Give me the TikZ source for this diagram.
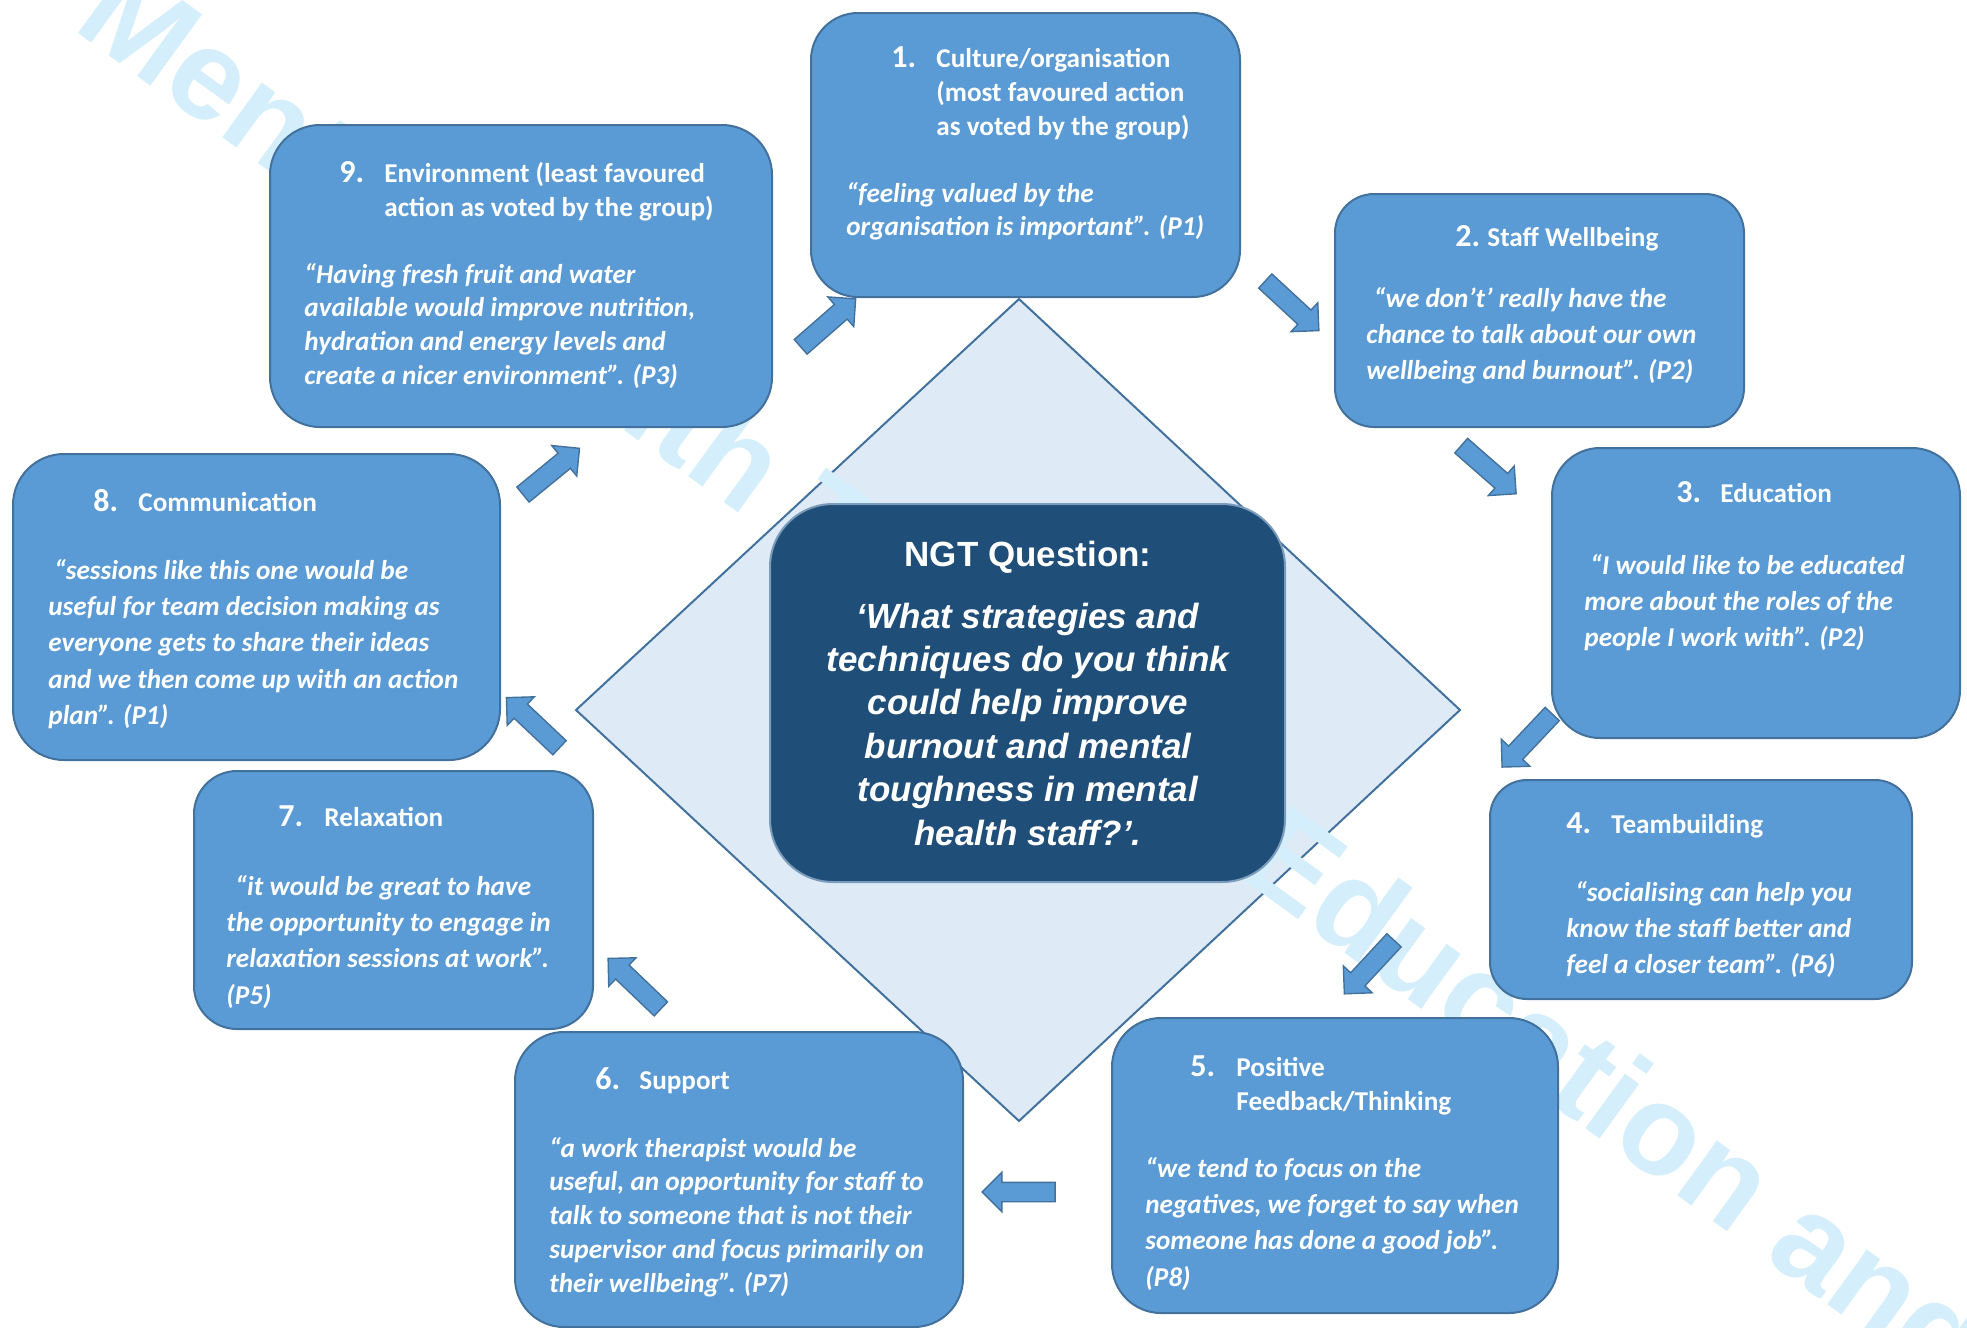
\documentclass[tikz,border=0pt]{standalone}
\usepackage{fontspec}
\setmainfont{Carlito}
\newfontfamily\arialfont{Liberation Sans}
\usetikzlibrary{shapes.arrows,fit}
\definecolor{boxfill}{HTML}{5B9BD5}
\definecolor{boxline}{HTML}{41719C}
\definecolor{centerfill}{HTML}{1F4E79}
\definecolor{diafill}{HTML}{DEEBF7}
\definecolor{wmark}{RGB}{212,239,251}
\newcommand\mylines[1]{\begin{tabular}[t]{@{}l@{}}#1\end{tabular}}
\newcommand\mylinesc[1]{\begin{tabular}[t]{@{}c@{}}#1\end{tabular}}
\begin{document}
\begin{tikzpicture}[x=0.5pt,y=-0.5pt,
  box/.style={draw=boxline, fill=boxfill, line width=1pt, inner sep=0pt, outer sep=0pt},
  cbox/.style={draw=boxline!70!white, fill=centerfill, line width=1pt, inner sep=0pt, outer sep=0pt},
  barrow/.style={single arrow, draw=boxline, fill=boxfill, line width=0.7pt, minimum height=36.5pt,
    text height=4.5pt, text depth=4.5pt, text width=0pt,
    minimum width=19pt, single arrow head extend=5pt, inner sep=0pt, sloped, allow upside down},
  num/.style={anchor=base west, inner sep=0pt, text=white, font=\fontsize{16}{19}\selectfont\bfseries},
  headA/.style={anchor=base west, inner sep=0pt, text=white, font=\fontsize{13.6}{17}\selectfont\bfseries},
  quoteA/.style={anchor=base west, inner sep=0pt, text=white, font=\fontsize{13.6}{16.9}\selectfont\bfseries\itshape},
  quoteB/.style={anchor=base west, inner sep=0pt, text=white, font=\fontsize{13.6}{18.2}\selectfont\bfseries\itshape},
  wm/.style={anchor=base west, rotate=-36, inner sep=0pt, text=wmark, font=\arialfont\bfseries\fontsize{64}{70}\selectfont},
  ctitle/.style={anchor=base, inner sep=0pt, text=white, font=\arialfont\bfseries\fontsize{17.5}{21.7}\selectfont},
  cquest/.style={anchor=base, inner sep=0pt, text=white, font=\arialfont\bfseries\itshape\fontsize{17.5}{21.7}\selectfont}
]
\useasboundingbox (0,0) rectangle (1967,1328);
\fill[white] (0,0) rectangle (1967,1328);

% diamond
\coordinate (dT) at (1019,299);
\coordinate (dR) at (1460,710);
\coordinate (dB) at (1019,1121);
\coordinate (dL) at (576,710);
\draw[fill=diafill, draw=boxline, line width=1pt] (dT) -- (dR) -- (dB) -- (dL) -- cycle;

% watermark
\begin{scope}
\clip (0,0) rectangle (1967,1328);
\node[wm] (wmtext) at (71,28) {Mental Health Training, Education and Practice};
\end{scope}

% center box
\node[cbox, rounded corners=31.5pt, fit={(770,504) (1285,882)}] (cb) {};
\node[ctitle] (ct) at (1028,566) {NGT Question:};
\node[cquest] (cq) at (1028,628) {\mylinesc{‘What strategies and\\techniques do you think\\could help improve\\burnout and mental\\toughness in mental\\health staff?’.}};

% boxes
\node[box, rounded corners=23.5pt, fit={(811,13) (1240,297)}] (b1) {};
\node[box, rounded corners=19.5pt, fit={(1335,194) (1744,427)}] (b2) {};
\node[box, rounded corners=24pt, fit={(1552,448) (1960,738)}] (b3) {};
\node[box, rounded corners=18.5pt, fit={(1490,780) (1912,999)}] (b4) {};
\node[box, rounded corners=24.5pt, fit={(1112,1018) (1558,1313)}] (b5) {};
\node[box, rounded corners=24.5pt, fit={(515,1032) (963,1327)}] (b6) {};
\node[box, rounded corners=21.5pt, fit={(194,771) (593,1029)}] (b7) {};
\node[box, rounded corners=25.5pt, fit={(13,454) (500,760)}] (b8) {};
\node[box, rounded corners=25pt, fit={(270,125) (772,427)}] (b9) {};

% box 1
\node[num] (n1) at (891,67) {1.};
\node[headA] (h1) at (936,67) {\mylines{Culture/organisation\\(most favoured action\\as voted by the group)}};
\node[quoteA] (q1) at (846,202) {\mylines{“feeling valued by the\\organisation is important”. (P1)}};
% box 2
\node[num] (n2) at (1455,246) {2.};
\node[headA] (h2) at (1487,246) {Staff Wellbeing};
\node[quoteB] (q2) at (1366,307) {\mylines{\hspace{3.75pt}“we don’t’ really have the\\chance to talk about our own\\wellbeing and burnout”. (P2)}};
% box 3
\node[num] (n3) at (1676,502) {3.};
\node[headA] (h3) at (1720,502) {Education};
\node[quoteB] (q3) at (1584,574) {\mylines{\hspace{3pt}“I would like to be educated\\more about the roles of the\\people I work with”. (P2)}};
% box 4
\node[num] (n4) at (1566,833) {4.};
\node[headA] (h4) at (1611,833) {Teambuilding};
\node[quoteB] (q4) at (1566,901) {\mylines{\hspace{4.5pt}“socialising can help you\\know the staff better and\\feel a closer team”. (P6)}};
% box 5
\node[num] (n5) at (1190,1076) {5.};
\node[headA] (h5) at (1236,1076) {\mylines{Positive\\Feedback/Thinking}};
\node[quoteB] (q5) at (1145,1177) {\mylines{“we tend to focus on the\\negatives, we forget to say when\\someone has done a good job”.\\(P8)}};
% box 6
\node[num] (n6) at (595,1089) {6.};
\node[headA] (h6) at (639,1089) {Support};
\node[quoteA] (q6) at (549,1157) {\mylines{“a work therapist would be\\useful, an opportunity for staff to\\talk to someone that is not their\\supervisor and focus primarily on\\their wellbeing”. (P7)}};
% box 7
\node[num] (n7) at (278,826) {7.};
\node[headA] (h7) at (324,826) {Relaxation};
\node[quoteB] (q7) at (226,895) {\mylines{\hspace{4.5pt}“it would be great to have\\the opportunity to engage in\\relaxation sessions at work”.\\(P5)}};
% box 8
\node[num] (n8) at (93,511) {8.};
\node[headA] (h8) at (138,511) {Communication};
\node[quoteB] (q8) at (48,579) {\mylines{\hspace{3pt}“sessions like this one would be\\useful for team decision making as\\everyone gets to share their ideas\\and we then come up with an action\\plan”. (P1)}};
% box 9
\node[num] (n9) at (339,182) {9.};
\node[headA] (h9) at (384,182) {\mylines{Environment (least favoured\\action as voted by the group)}};
\node[quoteA] (q9) at (304,283) {\mylines{“Having fresh fruit and water\\available would improve nutrition,\\hydration and energy levels and\\create a nicer environment”. (P3)}};

% block arrows
\coordinate (t91) at (797,350);  \coordinate (h91) at (852,302);
\coordinate (t12) at (1262,278); \coordinate (h12) at (1315,327);
\coordinate (t23) at (1457,442); \coordinate (h23) at (1513,491);
\coordinate (t34) at (1556,710); \coordinate (h34) at (1505,764);
\coordinate (t45) at (1398,936); \coordinate (h45) at (1347,991);
\coordinate (t56) at (1060,1192); \coordinate (h56) at (987,1192);
\coordinate (t67) at (661,1009); \coordinate (h67) at (615,965);
\coordinate (t78) at (563,751);  \coordinate (h78) at (510,701);
\coordinate (t89) at (520,497);  \coordinate (h89) at (575,452);
\path (t91) -- (h91) node[barrow, midway] (a91) {};
\path (t12) -- (h12) node[barrow, midway] (a12) {};
\path (t23) -- (h23) node[barrow, midway] (a23) {};
\path (t34) -- (h34) node[barrow, midway] (a34) {};
\path (t45) -- (h45) node[barrow, midway] (a45) {};
\path (t56) -- (h56) node[barrow, midway] (a56) {};
\path (t67) -- (h67) node[barrow, midway] (a67) {};
\path (t78) -- (h78) node[barrow, midway] (a78) {};
\path (t89) -- (h89) node[barrow, midway] (a89) {};
\end{tikzpicture}
\end{document}
